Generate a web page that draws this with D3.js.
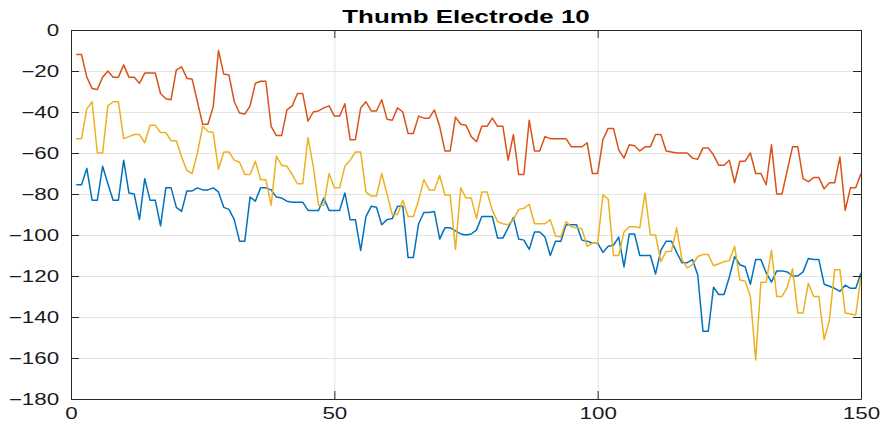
<!DOCTYPE html>
<html>
<head>
<meta charset="utf-8">
<script src="https://cdn.jsdelivr.net/npm/d3@7/dist/d3.min.js"></script>
<style>
  body { margin: 0; background: #fff; }
  svg { display: block; font-family: "Liberation Sans", Arial, Helvetica, sans-serif; }
</style>
</head>
<body>
<svg id="chart" width="885" height="427"></svg>
<script>
// Chart title and axis ticks
const chartTitle = "Thumb Electrode 10";
const xTickValues = [0, 50, 100, 150];
const yTickValues = [0, -20, -40, -60, -80, -100, -120, -140, -160, -180];

// Series 1 (blue), samples 1..150
const seriesBlue = [
  -75.5, -75.5, -67.5, -83, -83, -66.5, -75, -83, -83, -63.5,
  -79.5, -80, -92.5, -72.5, -83, -83, -95.5, -77, -77, -86.5,
  -88.5, -78.5, -78.5, -77, -78, -78, -77, -79, -86.5, -87.5,
  -92.5, -103, -103, -81.5, -83.5, -77, -77, -78, -81.5, -82,
  -83.5, -84, -84, -84, -88, -88, -88, -82, -88, -88,
  -88, -79.5, -92.5, -92.5, -107.5, -91, -86, -86.5, -95, -92.5,
  -92, -86, -86, -111, -111, -94.5, -89, -89, -88.5, -102,
  -96.5, -96.5, -98, -99.5, -100, -99.5, -97.5, -91, -91, -91,
  -101.5, -101.5, -96.5, -91.5, -102, -102.5, -107, -98.5, -98.5, -101,
  -110, -103, -103, -95, -95, -95, -102.5, -103, -104, -104,
  -108.5, -105.5, -105, -101, -115.5, -99.5, -99.5, -110, -110, -110,
  -119, -107.5, -103, -103, -108.5, -113.5, -113.5, -112, -119.5, -147,
  -147, -125.5, -129, -129, -120.5, -110.5, -114.5, -115.5, -124, -112,
  -112, -118.5, -123, -117.5, -117.5, -118, -120, -120, -118, -111.5,
  -112, -112, -124, -125, -126, -127.5, -124.5, -126, -126, -118.5
];

// Series 2 (orange-red), samples 1..150
const seriesRed = [
  -12, -12, -23, -28.5, -29, -23, -20, -23, -23, -17,
  -23, -23, -26, -21, -21, -21, -31, -33.5, -34, -19.5,
  -18, -23.5, -24, -35, -46, -46, -37.5, -10, -21.5, -22,
  -35, -40.5, -41, -37, -26, -25, -25, -47, -51.5, -51.5,
  -39, -37, -31, -31, -44.5, -40, -39.5, -38, -37, -42,
  -42, -36, -53.5, -53.5, -38, -35, -39.5, -39.5, -34, -43.5,
  -44, -38, -40, -50.5, -50.5, -42, -43, -43, -39, -47,
  -59, -59, -42.5, -46, -46.5, -52, -54.5, -47, -47, -43,
  -47, -47, -63.5, -51, -70.5, -70.5, -44, -59, -59, -52,
  -53, -53, -53, -53, -57, -57, -57, -55, -70, -70,
  -53.5, -48, -48, -58.5, -62.5, -56, -56.5, -59, -57, -57,
  -51, -51, -59, -59.5, -60, -60, -60, -62.5, -63, -57.5,
  -57.5, -61, -66, -66, -63.5, -74.5, -64, -64, -60, -70,
  -70, -75.5, -56, -80, -80, -68.5, -57, -57, -72.5, -74,
  -72, -72, -77.5, -74.5, -74.5, -62, -88, -77, -77, -70
];

// Series 3 (yellow), samples 1..150
const seriesYellow = [
  -53, -53, -38.5, -35, -60, -60, -37, -35, -35, -53,
  -52, -51, -51, -55, -46.5, -46.5, -50, -50, -54, -54,
  -62, -68.5, -70, -60, -47, -49.5, -50, -68, -59.5, -59.5,
  -63.5, -64.5, -70.5, -70.5, -64, -73, -73, -85.5, -61.5, -66,
  -66.5, -70.5, -75, -75, -52.5, -66.5, -85.5, -85.5, -70, -77,
  -77, -66.5, -63.5, -59.5, -59.5, -79, -81, -81, -70, -80,
  -90, -90, -83, -91, -91, -83, -73, -78, -78, -71,
  -80.5, -80.5, -107, -77, -82, -82, -92, -79, -79, -88,
  -93.5, -94.5, -95, -92.5, -87.5, -87, -85, -94.5, -94.5, -94.5,
  -92.5, -100.5, -101, -93.5, -96, -96.5, -97, -105.5, -104, -104,
  -80.5, -82.5, -110, -110, -98.5, -96, -96, -96.5, -79.5, -100,
  -100, -113, -108, -108, -96.5, -112, -116, -114.5, -110.5, -109.5,
  -109.5, -115, -114, -113, -112.5, -105.5, -122, -122.5, -130, -161,
  -123, -123, -107.5, -130, -130, -125.5, -116.5, -138, -138, -123.5,
  -130, -130, -151, -141.5, -117, -117, -138, -138.5, -139, -120
];

const seriesList = [
  { name: "blue", values: seriesBlue, color: "#0072BD" },
  { name: "red", values: seriesRed, color: "#D95319" },
  { name: "yellow", values: seriesYellow, color: "#EDB120" }
];

const width = 885, height = 427;
const margin = { top: 30, right: 24, bottom: 28, left: 71 };
const plotW = width - margin.left - margin.right;
const plotH = height - margin.top - margin.bottom;
const textStretch = 1.4;   // wide glyphs, as in the exported figure
const axisColor = "#262626";

const svg = d3.select("#chart");

const x = d3.scaleLinear().domain([0, 150]).range([0, plotW]);
const y = d3.scaleLinear().domain([-180, 0]).range([plotH, 0]);

const g = svg.append("g").attr("transform", `translate(${margin.left},${margin.top})`);

// Grid lines
const xGrid = g.append("g")
  .attr("transform", `translate(0,${plotH})`)
  .call(d3.axisBottom(x).tickValues(xTickValues).tickSize(-plotH).tickFormat(""));
const yGrid = g.append("g")
  .call(d3.axisLeft(y).tickValues(yTickValues).tickSize(-plotW).tickFormat(""));
[xGrid, yGrid].forEach(sel => {
  sel.select(".domain").remove();
  sel.selectAll("line").attr("stroke", "#e3e3e3").attr("stroke-width", 1);
});

// Data lines, clipped to the axes box
const clipId = "plot-clip";
svg.append("defs").append("clipPath").attr("id", clipId)
  .append("rect").attr("x", 0).attr("y", -1).attr("width", plotW).attr("height", plotH + 2);

const line = d3.line()
  .x((d, i) => x(i + 1))
  .y(d => y(d));

g.append("g").attr("clip-path", `url(#${clipId})`)
  .selectAll("path.series")
  .data(seriesList)
  .join("path")
  .attr("class", "series")
  .attr("fill", "none")
  .attr("stroke", d => d.color)
  .attr("stroke-width", 1.5)
  .attr("stroke-linejoin", "round")
  .attr("d", d => line(d.values));

// Axes with inward ticks; box on all four sides
function styleAxis(sel) {
  sel.select(".domain").attr("stroke", axisColor).attr("stroke-width", 1);
  sel.selectAll(".tick line").attr("stroke", axisColor).attr("stroke-width", 1);
  sel.selectAll("text")
    .attr("fill", "#1a1a1a")
    .style("font-size", "16px");
}

const leftAxis = g.append("g")
  .call(d3.axisLeft(y).tickValues(yTickValues).tickSize(-8).tickSizeOuter(0).tickPadding(8.5));
styleAxis(leftAxis);
leftAxis.selectAll(".tick text")
  .attr("transform", `scale(${textStretch},1)`)
  .attr("dy", "0.35em");

const bottomAxis = g.append("g")
  .attr("transform", `translate(0,${plotH})`)
  .call(d3.axisBottom(x).tickValues(xTickValues).tickSize(-8).tickSizeOuter(0).tickPadding(9));
styleAxis(bottomAxis);
bottomAxis.selectAll(".tick text")
  .attr("transform", `scale(${textStretch},1)`);

const rightAxis = g.append("g")
  .attr("transform", `translate(${plotW},0)`)
  .call(d3.axisRight(y).tickValues(yTickValues).tickSize(-8).tickSizeOuter(0).tickFormat(""));
styleAxis(rightAxis);

const topAxis = g.append("g")
  .call(d3.axisTop(x).tickValues(xTickValues).tickSize(-8).tickSizeOuter(0).tickFormat(""));
styleAxis(topAxis);

// Title
svg.append("text")
  .attr("transform", `translate(${margin.left + plotW / 2},23) scale(${textStretch},1)`)
  .attr("text-anchor", "middle")
  .attr("fill", "#000")
  .style("font-size", "18.5px")
  .style("font-weight", "bold")
  .text(chartTitle);
</script>
</body>
</html>
